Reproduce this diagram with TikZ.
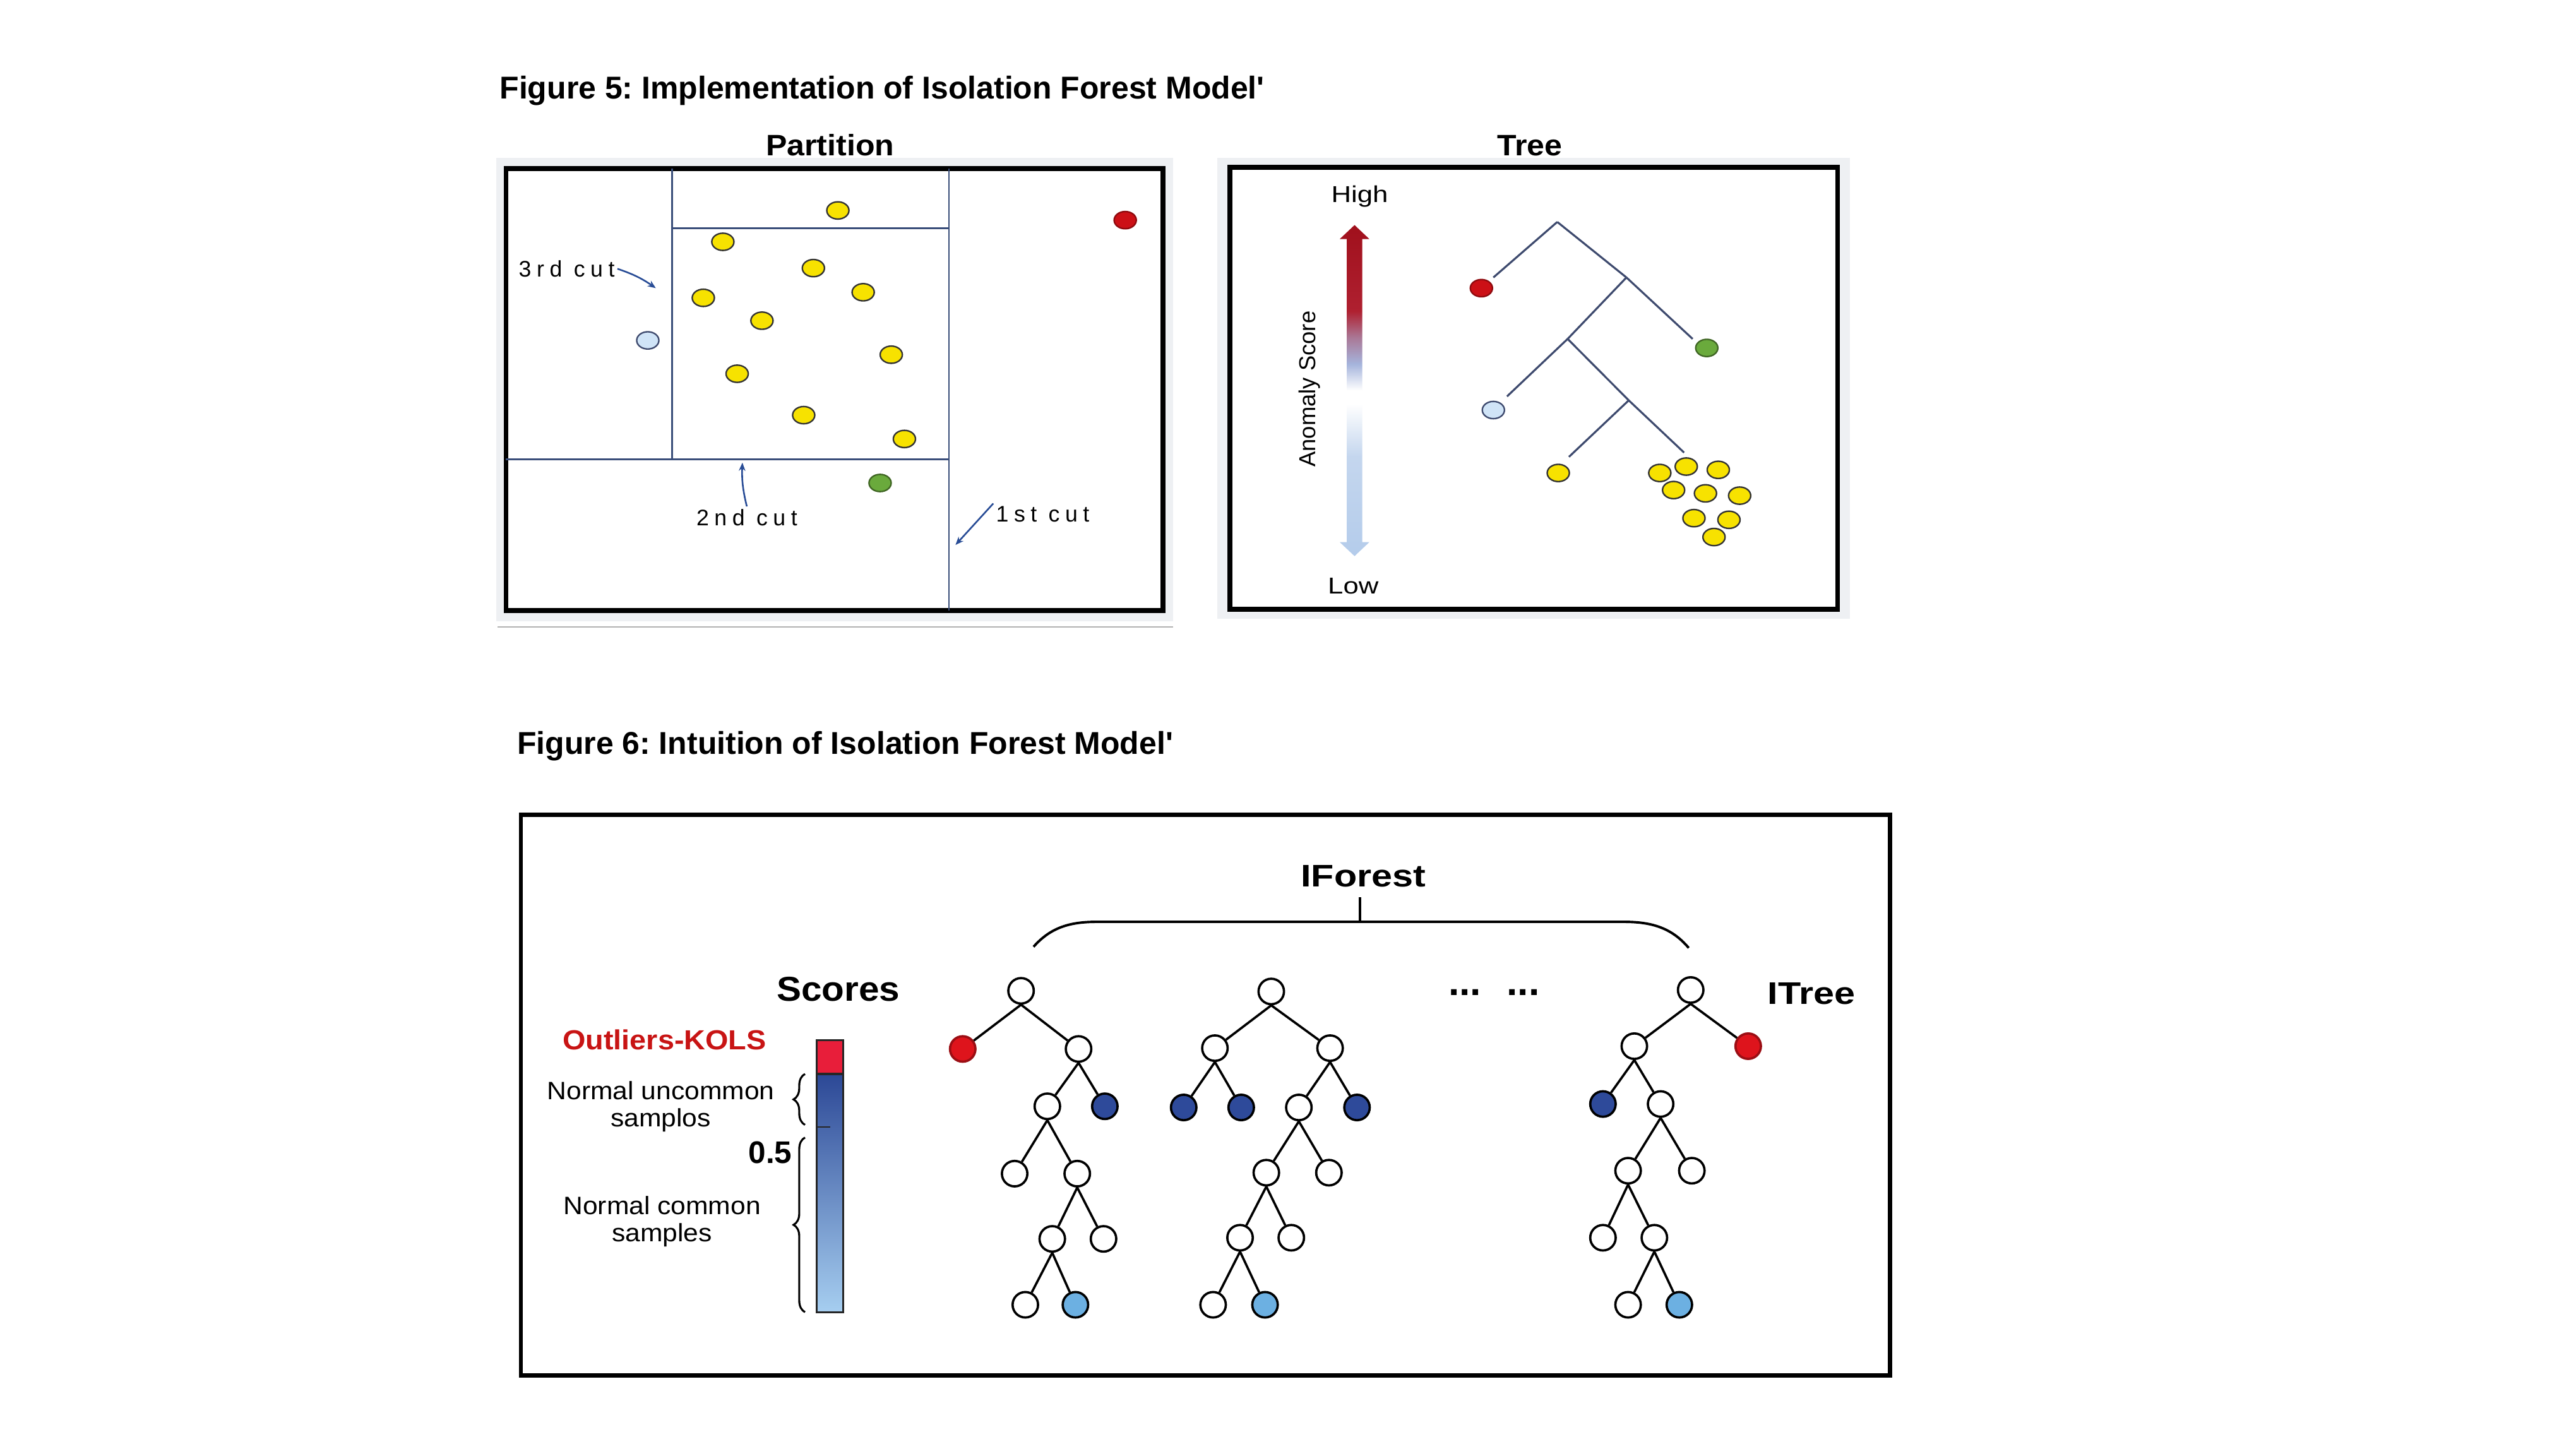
\documentclass[tikz,border=0pt]{standalone}
\usepackage{fontspec}
\setmainfont{Liberation Sans}
\newfontfamily\widesf[FakeStretch=1.2]{Liberation Sans}
\newfontfamily\midsf[FakeStretch=1.07]{Liberation Sans}
\newfontfamily\cutsf[LetterSpace=24]{Liberation Sans}
\usetikzlibrary{shapes.geometric,arrows.meta,decorations.pathreplacing}
\usepackage{xcolor}
\frenchspacing
\definecolor{dotyellow}{RGB}{247,226,0}
\definecolor{dotred}{RGB}{204,16,22}
\definecolor{dotgreen}{RGB}{106,170,60}
\definecolor{dotblue}{RGB}{208,228,247}
\definecolor{cutblue}{RGB}{58,78,122}
\definecolor{cutarrow}{RGB}{40,76,150}
\definecolor{branchcol}{RGB}{62,74,110}
\definecolor{shadowgray}{RGB}{238,240,243}
\definecolor{leafred}{RGB}{222,20,28}
\definecolor{leafdark}{RGB}{46,74,154}
\definecolor{leaflight}{RGB}{108,176,226}
\definecolor{barred}{RGB}{232,30,58}
\definecolor{bartop}{RGB}{44,72,150}
\definecolor{barbot}{RGB}{166,206,240}
\definecolor{kolsred}{RGB}{200,20,20}
\definecolor{arrtop}{RGB}{160,16,28}
\definecolor{arrred}{RGB}{175,32,48}
\definecolor{arrpink}{RGB}{170,120,150}
\definecolor{arrlav}{RGB}{165,180,220}
\definecolor{arrmid}{RGB}{196,214,238}
\definecolor{arrlow}{RGB}{180,204,235}
\pgfdeclareverticalshading{anomshade}{100bp}{color(0bp)=(arrlow); color(25bp)=(arrlow);
  color(40bp)=(arrmid); color(48bp)=(white); color(50bp)=(white); color(54bp)=(arrlav);
  color(58bp)=(arrpink); color(62bp)=(arrred); color(75bp)=(arrtop); color(100bp)=(arrtop)}
\tikzset{
  figtitle/.style={anchor=base west, inner sep=0, font=\bfseries\fontsize{19.2}{22}\selectfont},
  paneltitle/.style={anchor=base, font=\midsf\bfseries\fontsize{18}{20}\selectfont},
  panelframe/.style={draw=black, line width=3, fill=white},
  cutline/.style={draw=cutblue, line width=1.1},
  cutlabel/.style={anchor=base west, inner sep=1.5, font=\cutsf\fontsize{13.7}{16}\selectfont},
  cutarr/.style={-{Stealth[length=5pt,width=4pt]}, draw=cutarrow, line width=1},
  pdot/.style={ellipse, draw=black!80, line width=0.9, minimum width=13.5, minimum height=10.5, inner sep=0},
  branch/.style={draw=branchcol, line width=1.2},
  inode/.style={circle, draw=black, line width=1.4, fill=white, minimum size=15.5, inner sep=0},
  rnode/.style={inode, fill=leafred, draw=leafred!70!black},
  dnode/.style={inode, fill=leafdark},
  lnode/.style={inode, fill=leaflight},
  link/.style={line width=1.4},
  bigbold/.style={anchor=base, font=\widesf\bfseries\fontsize{19}{22}\selectfont},
  scorebrace/.style={decorate, decoration={brace, amplitude=7pt}, line width=1.2},
}

\begin{document}
\begin{tikzpicture}[x=1pt, y=-1pt]
  \useasboundingbox (0,0) rectangle (1568,882);

  % Figure 5
  \node[figtitle] (fig5) at (304,60) {Figure 5: Implementation of Isolation Forest Model\textquotesingle};
  \node[paneltitle] (parttitle) at (505.3,94.7) {Partition};
  \node[paneltitle] (treetitle) at (931.2,94.8) {Tree};

  \fill[shadowgray] (302,96) rectangle (714,378);
  \draw[black!30, line width=0.8] (302.8,381.7) -- (714,381.7);
  \draw[panelframe] (308,102.5) rectangle (708,371.5);
  \draw[cutline] (577.6,102.5) -- (577.6,371.5);
  \draw[cutline] (308,279.6) -- (577.6,279.6);
  \draw[cutline] (409.2,102.5) -- (409.2,279.6);
  \draw[cutline] (409.2,139) -- (577.6,139);

  \foreach \x/\y [count=\i] in {510/128.1, 440/147.2, 495.1/163.2, 428.1/181.3, 525.4/177.9,
      463.8/195.2, 542.5/215.9, 448.7/227.5, 489.2/252.7, 550.5/267.2}
    \node[pdot, fill=dotyellow] (py\i) at (\x,\y) {};
  \node[pdot, fill=dotred, draw=dotred!70!black] (pred) at (684.9,134) {};
  \node[pdot, fill=dotblue, draw=branchcol] (pblue) at (394.3,207.2) {};
  \node[pdot, fill=dotgreen, draw=dotgreen!60!black] (pgreen) at (535.7,294) {};

  \node[cutlabel] (cut3) at (314.1,168.5) {3rd cut};
  \node[cutlabel] (cut2) at (422.2,319.9) {2nd cut};
  \node[cutlabel] (cut1) at (604.6,317.6) {1st cut};
  \coordinate (tip3) at (399.2,175.4);
  \coordinate (tip2) at (451.9,281.6);
  \coordinate (tip1) at (581.6,331.7);
  \draw[cutarr] (cut3.east) to[bend left=8] (tip3);
  \draw[cutarr] (cut2.north) to[bend left=8] (tip2);
  \draw[cutarr] (cut1.north west) -- (tip1);

  \fill[shadowgray] (741,96) rectangle (1126,376.6);
  \draw[panelframe] (748.5,102) rectangle (1118.5,371);

  \node[anchor=base, font=\widesf\fontsize{14}{16}\selectfont] (high) at (827.6,123.3) {High};
  \node[anchor=base, font=\widesf\fontsize{14}{16}\selectfont] (low) at (823.7,361.6) {Low};
  \shade[shading=anomshade] (824.5,137) -- (833.5,145.5) -- (829.2,145.5) -- (829.2,330) -- (833.5,330)
    -- (824.5,338.5) -- (815.5,330) -- (819.8,330) -- (819.8,145.5) -- (815.5,145.5) -- cycle;
  \node[rotate=90, font=\fontsize{14}{16}\selectfont] (anom) at (797.2,236.8) {Anomaly Score};

  \coordinate (r0) at (947.9,135.1);
  \coordinate (j1) at (990,168.9);
  \coordinate (j2) at (954.2,206.3);
  \coordinate (j3) at (991.4,243.7);
  \coordinate (e1) at (909,168.9);
  \coordinate (e2) at (1030.3,206.3);
  \coordinate (e3) at (917.3,241.3);
  \coordinate (e4) at (955,278.1);
  \coordinate (e5) at (1025.1,275.5);
  \foreach \a/\b in {r0/e1, r0/j1, j1/e2, j1/j2, j2/e3, j2/j3, j3/e4, j3/e5}
    \draw[branch] (\a) -- (\b);

  \node[pdot, fill=dotred, draw=dotred!70!black] (tred) at (901.7,175.4) {};
  \node[pdot, fill=dotgreen, draw=dotgreen!60!black] (tgreen) at (1038.9,211.8) {};
  \node[pdot, fill=dotblue, draw=branchcol] (tblue) at (909,249.6) {};
  \foreach \x/\y [count=\i] in {948.5/287.9, 1010.3/287.9, 1026.4/284, 1045.9/286, 1018.7/298.3,
      1038.1/300.3, 1058.9/301.7, 1031.1/315.4, 1052.4/316.4, 1043.3/326.9}
    \node[pdot, fill=dotyellow] (ty\i) at (\x,\y) {};

  % Figure 6
  \node[figtitle] (fig6) at (314.6,459) {Figure 6: Intuition of Isolation Forest Model\textquotesingle};
  \draw[black, line width=2.5] (317,496) rectangle (1150.5,837.2);

  \node[bigbold] (iforest) at (829.8,539.7) {IForest};
  \node[bigbold] (itree) at (1102.5,611.2) {ITree};
  \coordinate (fl) at (629.1,576.3);
  \coordinate (fr) at (1027.9,577);
  \coordinate (ftick) at (827.9,561.1);
  \draw[line width=1.5] (fl) .. controls (640,564) and (652,561.1) .. (668,561.1) -- (988,561.1)
    .. controls (1004,561.1) and (1017,564) .. (fr);
  \draw[line width=1.5] (ftick) -- ++(0,-15);

  \node[anchor=base, font=\midsf\bfseries\fontsize{21}{24}\selectfont] (scores) at (510.3,609.2) {Scores};
  \node[anchor=base, text=kolsred, font=\midsf\bfseries\fontsize{16.8}{19}\selectfont] (kols) at (404.5,639) {Outliers-KOLS};
  \node[align=center, font=\midsf\fontsize{15.3}{16.5}\selectfont] (uncommon) at (402.2,673.5) {Normal uncommon\\samplos};
  \node[align=center, font=\midsf\fontsize{15.3}{16.5}\selectfont] (common) at (403,743.4) {Normal common\\samples};
  \node[anchor=base, font=\bfseries\fontsize{19}{22}\selectfont] (half) at (468.9,708) {0.5};

  \shade[top color=bartop, bottom color=barbot] (497.1,653.7) rectangle (513.4,798.7);
  \fill[barred] (497.1,633.2) rectangle (513.4,653.7);
  \draw[black!85, line width=1.2] (497.1,633.2) rectangle (513.4,798.7);
  \draw[black!85, line width=1.2] (497.1,653.7) -- (513.4,653.7);
  \draw[black!85, line width=1] (497.7,686) -- (505.4,686);
  \draw[scorebrace] (490,684.7) -- (490,653.7);
  \draw[scorebrace] (490,798.7) -- (490,692.4);

  % tree a
  \node[inode] (a0) at (621.5,603.1) {};
  \node[rnode] (a1) at (586,638.5) {};
  \node[inode] (a2) at (656.5,638.5) {};
  \node[inode] (a3) at (637.5,673.4) {};
  \node[dnode] (a4) at (672.5,673.4) {};
  \node[inode] (a5) at (617.6,714.4) {};
  \node[inode] (a6) at (655.7,714.4) {};
  \node[inode] (a7) at (640.5,754.1) {};
  \node[inode] (a8) at (671.7,754.1) {};
  \node[inode] (a9) at (624.1,794.2) {};
  \node[lnode] (a10) at (654.6,794.2) {};
  % tree b
  \node[inode] (b0) at (773.8,603.5) {};
  \node[inode] (b1) at (739.5,638) {};
  \node[inode] (b2) at (809.6,638) {};
  \node[dnode] (b3) at (720.5,674.1) {};
  \node[dnode] (b4) at (755.5,674.1) {};
  \node[inode] (b5) at (790.6,674.1) {};
  \node[dnode] (b6) at (826,674.1) {};
  \node[inode] (b7) at (770.8,713.8) {};
  \node[inode] (b8) at (808.9,713.8) {};
  \node[inode] (b9) at (754.8,753.4) {};
  \node[inode] (b10) at (786,753.4) {};
  \node[inode] (b11) at (738.4,794.2) {};
  \node[lnode] (b12) at (770,794.2) {};
  % tree c
  \node[inode] (c0) at (1029.1,602.6) {};
  \node[inode] (c1) at (994.8,636.8) {};
  \node[rnode] (c2) at (1064.1,636.8) {};
  \node[dnode] (c3) at (975.7,672) {};
  \node[inode] (c4) at (1010.8,672) {};
  \node[inode] (c5) at (991,712.6) {};
  \node[inode] (c6) at (1029.8,712.6) {};
  \node[inode] (c7) at (975.7,753.4) {};
  \node[inode] (c8) at (1007,753.4) {};
  \node[inode] (c9) at (991,794.2) {};
  \node[lnode] (c10) at (1022.2,794.2) {};

  \foreach \p/\c in {a0/a1, a0/a2, a2/a3, a2/a4, a3/a5, a3/a6, a6/a7, a6/a8, a7/a9, a7/a10,
      b0/b1, b0/b2, b1/b3, b1/b4, b2/b5, b2/b6, b5/b7, b5/b8, b7/b9, b7/b10, b9/b11, b9/b12,
      c0/c1, c0/c2, c1/c3, c1/c4, c4/c5, c4/c6, c5/c7, c5/c8, c8/c9, c8/c10}
    \draw[link] (\p.south) -- (\c);

  \node[font=\bfseries\fontsize{24}{26}\selectfont] (dots1) at (891.7,604) {...};
  \node[font=\bfseries\fontsize{24}{26}\selectfont] (dots2) at (927.2,604) {...};
\end{tikzpicture}
\end{document}
